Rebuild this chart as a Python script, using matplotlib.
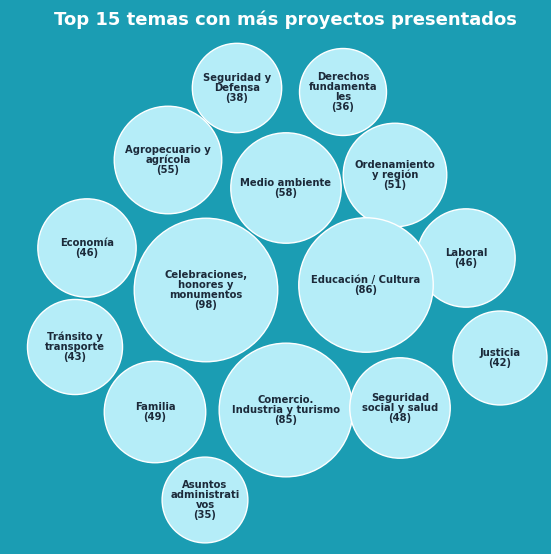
import matplotlib.pyplot as plt
from matplotlib.patches import Circle
import numpy as np

# Data
temas = [
    "Seguridad y\nDefensa", "Derechos\nfundamenta\nles", "Agropecuario y\nagrícola",
    "Medio ambiente", "Ordenamiento\ny región", "Economía", "Laboral",
    "Celebraciones,\nhonores y\nmonumentos", "Educación / Cultura", "Tránsito y\ntransporte",
    "Justicia", "Familia", "Comercio.\nIndustria y turismo", "Seguridad\nsocial y salud",
    "Asuntos\nadministrati\nvos",
]
proyectos = [38, 36, 55, 58, 51, 46, 46, 98, 86, 43, 42, 49, 85, 48, 35]

# layout (pixel centres of the packed bubbles)
centros_x = [237, 343, 168, 286, 395, 87, 466, 206, 366, 75, 500, 155, 286, 400, 205]
centros_y = [88, 92, 160, 188, 175, 248, 258, 290, 285, 347, 358, 412, 410, 408, 500]

BG = '#1b9db3'
BUBBLE = '#b5edf8'
TEXT = '#1c2a3a'

fig = plt.figure(figsize=(5.51, 5.54), dpi=100, facecolor=BG)
ax = fig.add_axes([0, 0, 1, 1])
ax.set_facecolor(BG)
ax.set_xlim(0, 551)
ax.set_ylim(554, 0)
ax.set_aspect('equal')
ax.axis('off')

k = 7.25
for tema, v, x, y in zip(temas, proyectos, centros_x, centros_y):
    r = k * np.sqrt(v)
    ax.add_patch(Circle((x, y), r, facecolor=BUBBLE, edgecolor='white', linewidth=1.0))
    ax.text(x, y, f"{tema}\n({v})", ha='center', va='center', fontsize=7.2,
            fontweight='bold', color=TEXT, linespacing=1.0)

ax.text(285, 20, "Top 15 temas con más proyectos presentados", ha='center', va='center',
        fontsize=13, fontweight='bold', color='white')

fig.savefig("out.png", dpi=100, facecolor=BG)
